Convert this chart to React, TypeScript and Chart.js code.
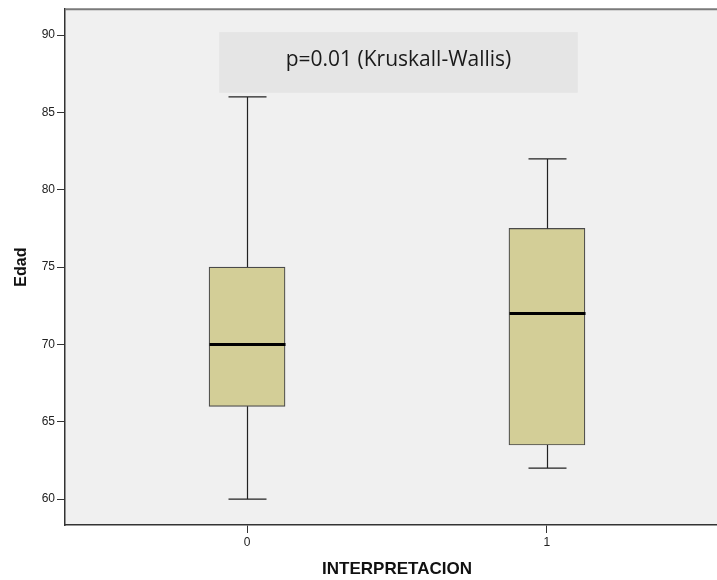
import React, { useEffect, useRef } from "react";
import { Chart, registerables } from "chart.js";

Chart.register(...registerables);

// ---- data ----
const categories = [0, 1];
const whiskerLow = [60, 62];
const q1 = [66, 63.5];
const median = [70, 72];
const q3 = [75, 77.5];
const whiskerHigh = [86, 82];
const yTicks = [60, 65, 70, 75, 80, 85, 90];
const xTitle = "INTERPRETACION";
const yTitle = "Edad";
const annotationText = "p=0.01 (Kruskall-Wallis)";

// annotation anchor in data units
const annot = { x0: -0.093, x1: 1.103, y0: 86.27, y1: 90.19 };

const BOX_W = 76;
const FILL = "#d3ce97";

const boxPlugin = {
  id: "boxExtras",
  beforeDraw(chart: any) {
    const { ctx, chartArea: a } = chart;
    ctx.save();
    ctx.fillStyle = "#f0f0f0";
    ctx.fillRect(a.left, a.top, a.right - a.left, a.bottom - a.top);
    ctx.restore();
  },
  afterDatasetsDraw(chart: any) {
    const { ctx, chartArea: a } = chart;
    const xs = chart.scales.x;
    const ys = chart.scales.y;
    ctx.save();
    // top frame line
    ctx.strokeStyle = "#7a7a7a";
    ctx.lineWidth = 2;
    ctx.beginPath();
    ctx.moveTo(a.left, a.top);
    ctx.lineTo(a.right, a.top);
    ctx.stroke();

    categories.forEach((c, i) => {
      const x = Math.round(xs.getPixelForValue(c)) + 0.5;
      const yLo = ys.getPixelForValue(whiskerLow[i]);
      const yQ1 = ys.getPixelForValue(q1[i]);
      const yQ3 = ys.getPixelForValue(q3[i]);
      const yHi = ys.getPixelForValue(whiskerHigh[i]);
      const yMed = ys.getPixelForValue(median[i]);
      ctx.strokeStyle = "#222";
      ctx.lineWidth = 1.2;
      ctx.beginPath();
      ctx.moveTo(x, yQ1);
      ctx.lineTo(x, yLo);
      ctx.moveTo(x, yQ3);
      ctx.lineTo(x, yHi);
      ctx.moveTo(x - BOX_W / 4, yLo);
      ctx.lineTo(x + BOX_W / 4, yLo);
      ctx.moveTo(x - BOX_W / 4, yHi);
      ctx.lineTo(x + BOX_W / 4, yHi);
      ctx.stroke();
      ctx.strokeStyle = "#000";
      ctx.lineWidth = 3;
      ctx.beginPath();
      ctx.moveTo(x - BOX_W / 2, yMed);
      ctx.lineTo(x + BOX_W / 2, yMed);
      ctx.stroke();
    });

    // annotation box
    const bx0 = xs.getPixelForValue(annot.x0);
    const bx1 = xs.getPixelForValue(annot.x1);
    const by0 = ys.getPixelForValue(annot.y1);
    const by1 = ys.getPixelForValue(annot.y0);
    ctx.fillStyle = "#e5e5e5";
    ctx.fillRect(bx0, by0, bx1 - bx0, by1 - by0);
    ctx.fillStyle = "#1a1a1a";
    ctx.font = '21px "Open Sans", "Noto Sans", sans-serif';
    ctx.textAlign = "center";
    ctx.textBaseline = "middle";
    ctx.fillText(annotationText, (bx0 + bx1) / 2, (by0 + by1) / 2 - 2);
    ctx.restore();
  },
};

export default function App() {
  const ref = useRef<HTMLCanvasElement | null>(null);
  useEffect(() => {
    if (!ref.current) return;
    const chart = new Chart(ref.current, {
      type: "bar",
      data: {
        datasets: [
          {
            data: categories.map((c, i) => ({ x: c, y: [q1[i], q3[i]] })) as any,
            backgroundColor: FILL,
            borderColor: "#4a4a4a",
            borderWidth: 1.2,
            borderSkipped: false,
            barThickness: BOX_W,
          },
        ],
      },
      plugins: [boxPlugin],
      options: {
        responsive: false,
        animation: false,
        devicePixelRatio: 1,
        layout: { padding: { top: 7, left: 0, right: 0, bottom: 0 } },
        plugins: { legend: { display: false }, tooltip: { enabled: false } },
        scales: {
          x: {
            type: "linear",
            offset: false,
            min: -0.607,
            max: 1.607,
            afterBuildTicks: (s: any) => {
              s.ticks = categories.map((v) => ({ value: v }));
            },
            afterFit: (s: any) => {
              s.height = 55;
            },
            grid: {
              display: true,
              offset: false,
              drawOnChartArea: false,
              drawTicks: true,
              tickLength: 8,
              color: "#333",
            },
            border: { display: true, color: "#333", width: 1.5 },
            ticks: {
              padding: 2,
              color: "#222",
              font: { family: '"Liberation Sans", Arial, sans-serif', size: 12 },
              callback: (v: any) => String(v),
            },
            title: {
              display: true,
              text: xTitle,
              color: "#111",
              padding: { top: 0, bottom: 0 },
              font: { family: '"Liberation Sans", Arial, sans-serif', size: 17, weight: "bold", lineHeight: 1.2 },
            },
          },
          y: {
            type: "linear",
            min: 58.33,
            max: 91.67,
            afterBuildTicks: (s: any) => {
              s.ticks = yTicks.map((v) => ({ value: v }));
            },
            afterFit: (s: any) => {
              s.width = 65;
            },
            grid: {
              display: true,
              drawOnChartArea: false,
              drawTicks: true,
              tickLength: 8,
              color: "#333",
            },
            border: { display: true, color: "#333", width: 1.5 },
            ticks: {
              padding: 2,
              color: "#222",
              font: { family: '"Liberation Sans", Arial, sans-serif', size: 12 },
              callback: (v: any) => String(v),
            },
            title: {
              display: true,
              text: yTitle,
              color: "#111",
              padding: { top: 12, bottom: 0 },
              font: { family: '"Liberation Sans", Arial, sans-serif', size: 16, weight: "bold", lineHeight: 1.2 },
            },
          },
        },
      } as any,
    });
    return () => chart.destroy();
  }, []);
  return (
    <div
      style={{
        position: "absolute",
        left: 0,
        top: 0,
        width: 717,
        height: 580,
        overflow: "hidden",
        background: "#fff",
      }}
    >
      <canvas ref={ref} width={729} height={580} style={{ display: "block", width: 729, height: 580 }} />
    </div>
  );
}
